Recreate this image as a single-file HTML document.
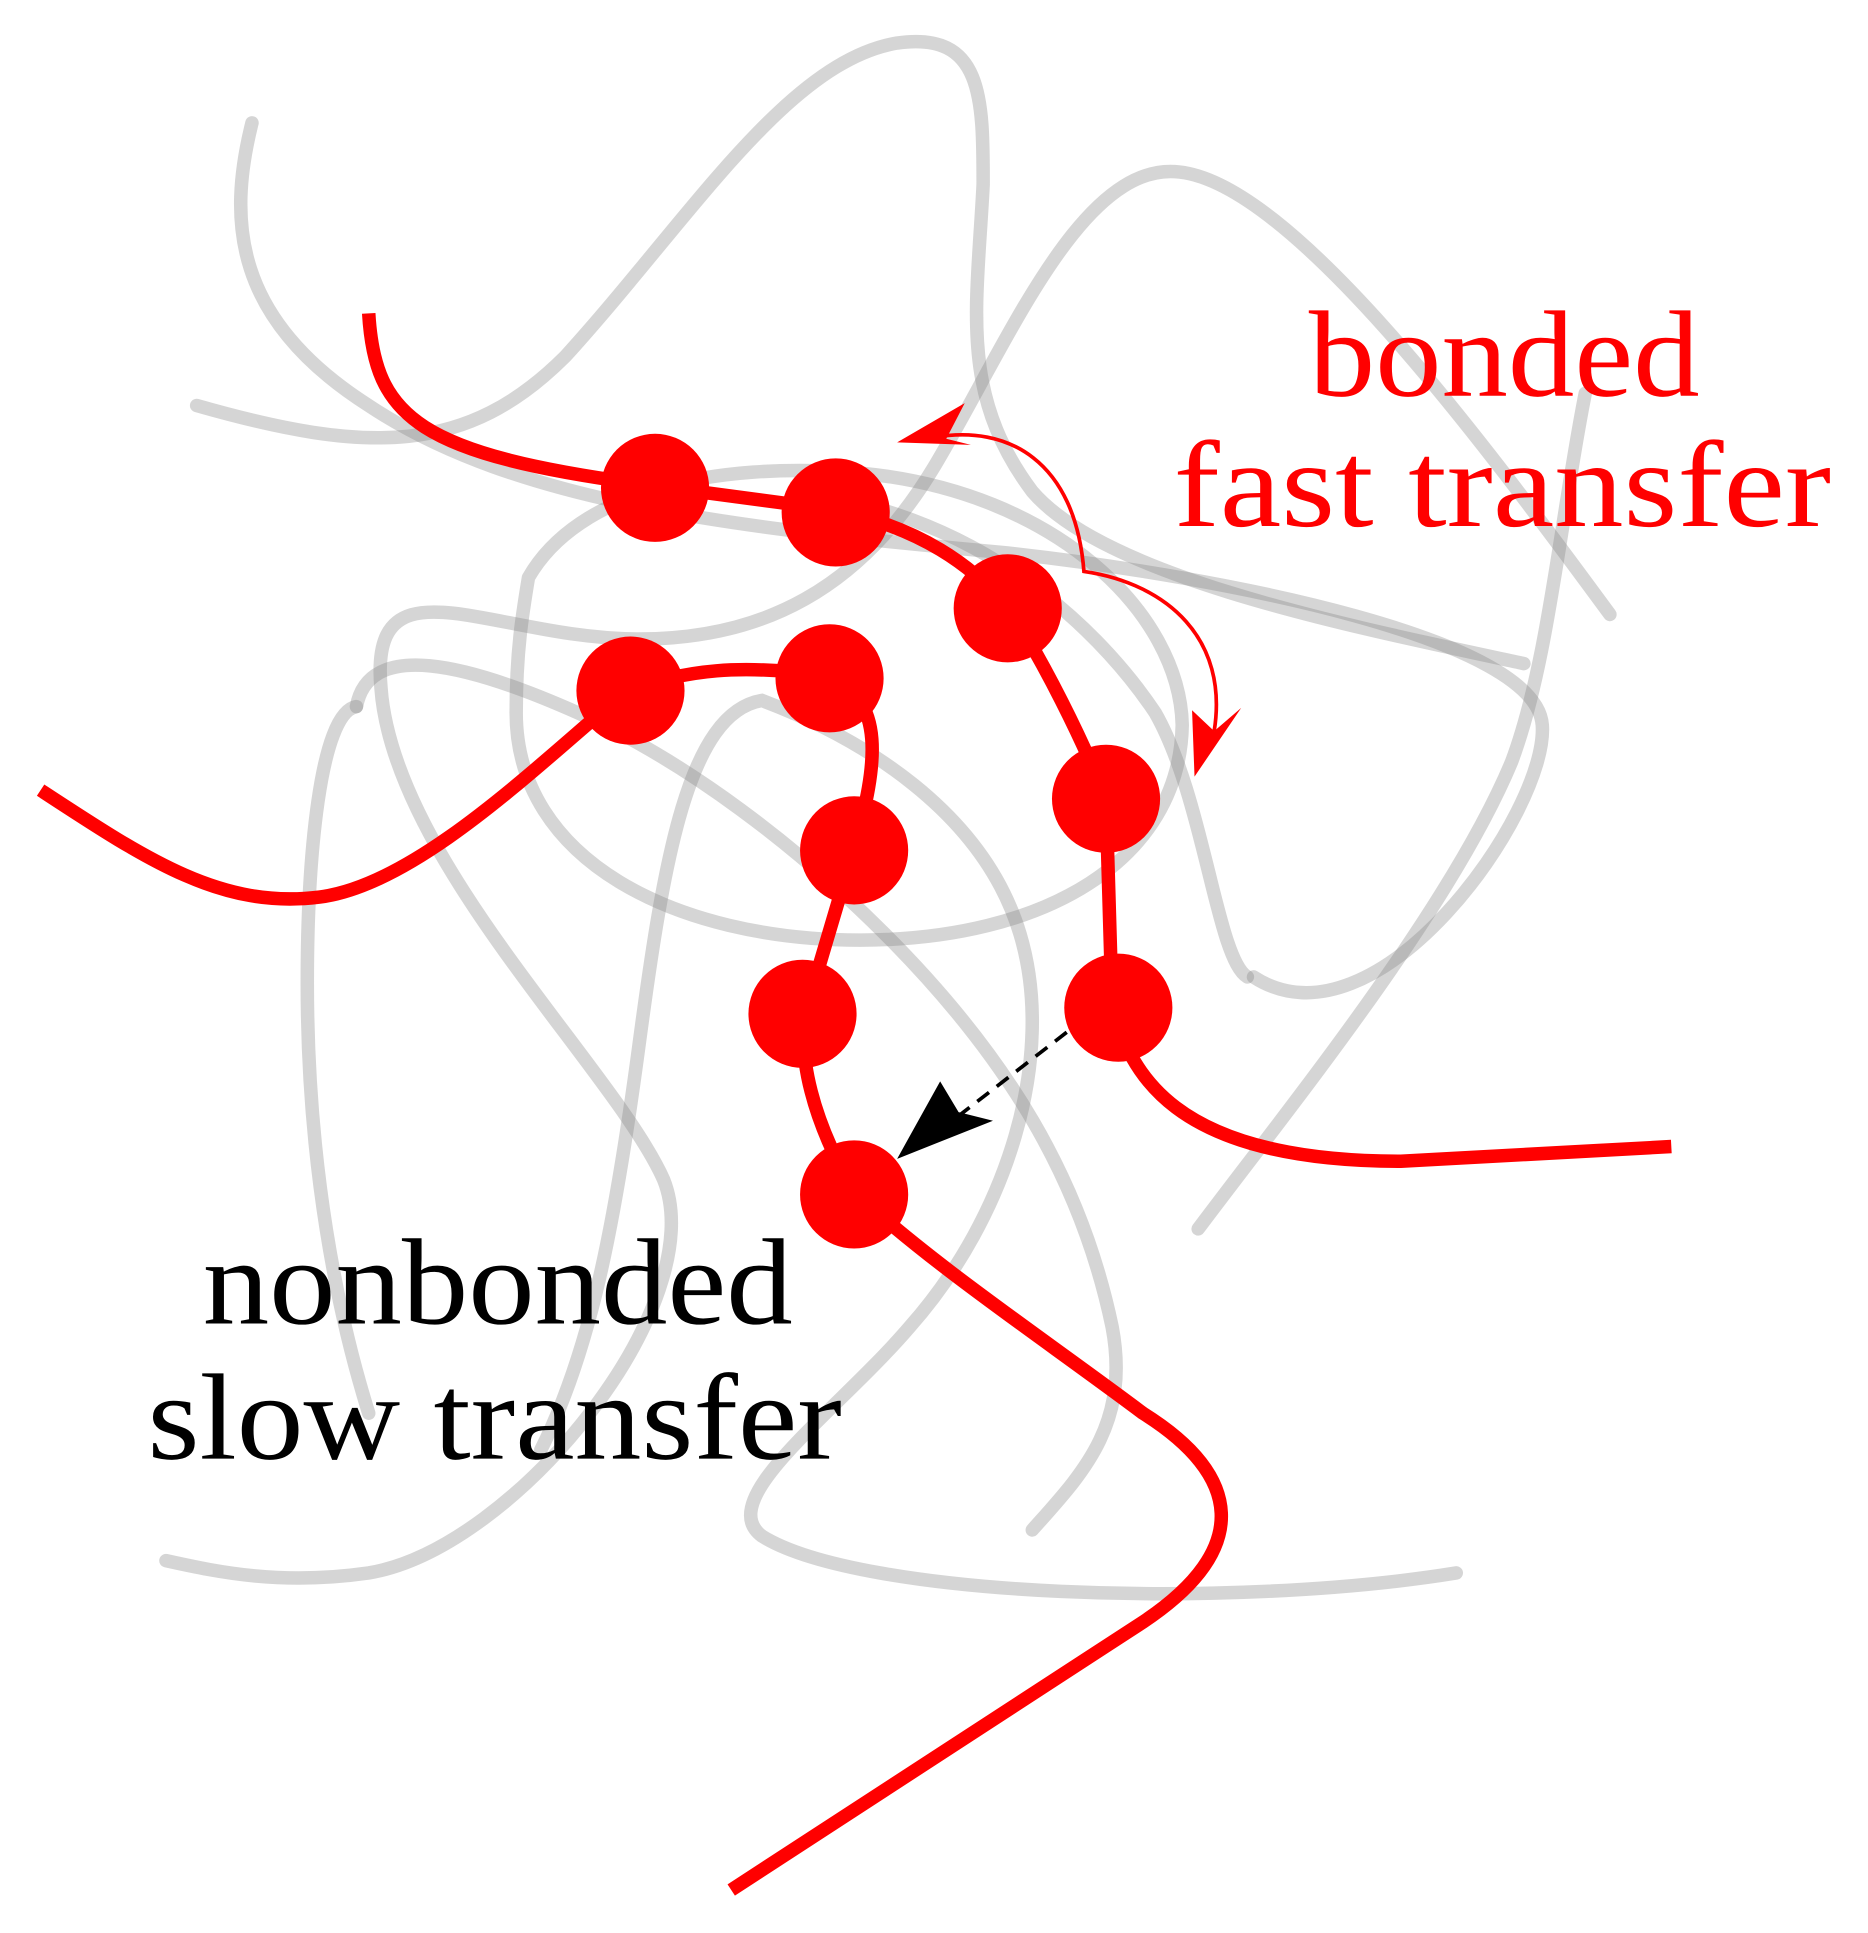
<!DOCTYPE html>
<html><head><meta charset="utf-8"><style>
html,body{margin:0;padding:0;background:#fff;}
svg{display:block;}
</style></head><body>
<svg width="1868" height="1933" viewBox="0 0 1520 1573" xmlns="http://www.w3.org/2000/svg">
<g fill="none" stroke="#888" stroke-opacity="0.35" stroke-width="11" stroke-linecap="round">
<path d="M205,100 C185,180 190,260 300,330 C420,410 600,430 820,450 C1000,470 1250,520 1255,590 C1260,660 1120,860 1020,795"/>
<path d="M160,330 C300,370 380,370 460,290 C560,180 640,50 730,35 C800,25 800,80 800,150 C795,250 780,320 840,400 C900,470 1100,510 1240,540"/>
<path d="M1310,500 C1200,350 1050,150 960,140 C880,130 820,280 760,380 C700,480 620,520 520,520 C400,520 300,450 310,560 C320,700 500,870 540,960 C580,1060 420,1260 300,1280 C230,1290 180,1280 135,1270"/>
<path d="M430,470 C470,400 580,375 700,385 C860,400 960,500 962,590 C960,700 850,765 700,765 C550,765 420,700 420,580 C420,530 425,500 430,470"/>
<path d="M290,575 C260,580 250,700 250,800 C250,950 275,1070 300,1150"/>
<path d="M840,1245 C880,1200 920,1160 905,1080 C880,960 820,860 720,760 C650,690 560,620 470,580 C380,540 300,520 290,575"/>
<path d="M1185,1280 C1000,1310 700,1300 620,1250 C580,1220 680,1150 740,1080 C820,990 860,860 830,760 C800,660 700,600 620,570 C560,580 540,700 520,850 C500,1000 480,1100 440,1180"/>
<path d="M1015,795 C990,780 980,650 940,580 C900,520 820,440 700,410"/>
<path d="M975,1000 C1050,900 1180,740 1230,620 C1260,540 1270,420 1290,320"/>
</g>
<g fill="none" stroke="#ff0000" stroke-width="11">
<path d="M300,255 C305,340 340,370 530,395 L680,415 C750,430 790,460 820,493 C850,540 880,600 900,650 L905,820 C920,870 950,945 1140,945 L1360,933"/>
<path d="M33,643 C120,700 180,740 260,730 C340,720 440,620 510,562 C560,545 600,540 675,550 C720,570 715,620 695,690 L655,825 C650,860 660,910 695,970 C760,1030 850,1090 930,1150 C1010,1200 1020,1260 930,1320 L595,1538"/>
</g>
<g fill="#ff0000">
<circle cx="533" cy="397" r="44"/><circle cx="680" cy="417" r="44"/><circle cx="820" cy="495" r="44"/>
<circle cx="900" cy="650" r="44"/><circle cx="910" cy="820" r="44"/><circle cx="513" cy="562" r="44"/>
<circle cx="675" cy="552" r="44"/><circle cx="695" cy="692" r="44"/><circle cx="653" cy="825" r="44"/>
<circle cx="695" cy="972" r="44"/>
</g>
<path d="M760,356 C820,345 875,375 882,465 C950,475 1000,520 988,595" fill="none" stroke="#ff0000" stroke-width="3"/>
<path d="M730,360 L785,328 L770,357 L790,362 Z" fill="#ff0000"/>
<path d="M972,632 L970,578 L988,595 L1010,576 Z" fill="#ff0000"/>
<path d="M868,840 L775,912" fill="none" stroke="#000" stroke-width="3" stroke-dasharray="12,8"/>
<path d="M730,943 L765,880 L780,905 L808,912 Z" fill="#000"/>
<g font-family="'Liberation Serif', serif" font-size="100">
<text x="1065" y="322" fill="#ff0000" textLength="318" lengthAdjust="spacingAndGlyphs">bonded</text>
<text x="955" y="428" fill="#ff0000" textLength="535" lengthAdjust="spacingAndGlyphs">fast transfer</text>
<text x="165" y="1077" fill="#000" textLength="480" lengthAdjust="spacingAndGlyphs">nonbonded</text>
<text x="120" y="1187" fill="#000" textLength="565" lengthAdjust="spacingAndGlyphs">slow transfer</text>
</g>
</svg>
</body></html>
